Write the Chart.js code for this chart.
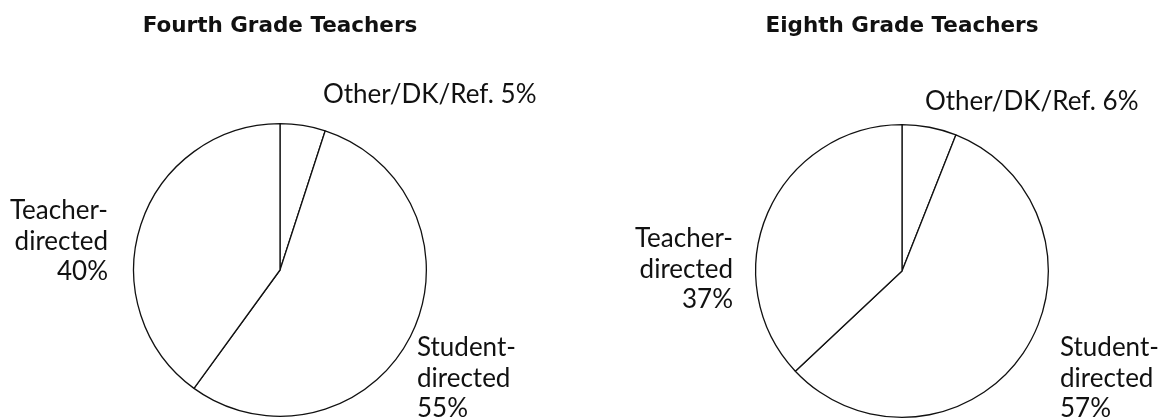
<!DOCTYPE html>
<html>
<head>
<meta charset="utf-8">
<script src="https://cdn.jsdelivr.net/npm/chart.js@4"></script>
<style>
  html, body { margin: 0; padding: 0; background: #fff; overflow: hidden; }
  #wrap { position: relative; width: 1160px; height: 419px; }
  .box { position: absolute; top: 0; width: 580px; height: 419px; }
</style>
</head>
<body>
<div id="wrap">
  <div class="box" style="left:0"><canvas id="fourth"></canvas></div>
  <div class="box" style="left:580px"><canvas id="eighth"></canvas></div>
</div>
<script>
const categories = ['Other/DK/Ref.', 'Student-directed', 'Teacher-directed'];
const fourthValues = [5, 55, 40];
const eighthValues = [6, 57, 37];
const chartTitles = ['Fourth Grade Teachers', 'Eighth Grade Teachers'];

// how each category label is broken into lines
const labelLines = [
  v => ['Other/DK/Ref. ' + v + '%'],
  v => ['Student-', 'directed', v + '%'],
  v => ['Teacher-', 'directed', v + '%']
];

// label anchors relative to pie centre: [dx, dy of first baseline, align]
const fourthSpots = [[43, -167, 'left'], [137, 86, 'left'], [-172, -51, 'right']];
const eighthSpots = [[23, -161, 'left'], [158, 85, 'left'], [-169, -24, 'right']];

const labelFont = '26px Lato, "Open Sans", sans-serif';

const pieLabels = {
  id: 'pieLabels',
  afterDraw(chart) {
    const ctx = chart.ctx;
    const spots = chart.options.plugins.pieLabels.spots;
    const values = chart.data.datasets[0].data;
    const arcs = chart.getDatasetMeta(0).data;
    ctx.save();
    ctx.font = labelFont;
    ctx.fillStyle = '#111';
    ctx.textBaseline = 'alphabetic';
    arcs.forEach((arc, i) => {
      const [dx, dy, align] = spots[i];
      ctx.textAlign = align;
      labelLines[i](values[i]).forEach((line, k) => {
        ctx.fillText(line, arc.x + dx, arc.y + dy + k * 30.5);
      });
    });
    ctx.restore();
  }
};

function makePie(id, values, title, pad, titlePadBottom, spots) {
  return new Chart(document.getElementById(id), {
    type: 'pie',
    data: {
      labels: categories,
      datasets: [{
        data: values,
        backgroundColor: '#fff',
        borderColor: '#111',
        borderWidth: 1.3,
        borderAlign: 'center'
      }]
    },
    options: {
      responsive: true,
      maintainAspectRatio: false,
      animation: false,
      events: [],
      layout: { padding: pad },
      plugins: {
        legend: { display: false },
        tooltip: { enabled: false },
        title: {
          display: true,
          text: title,
          color: '#111',
          font: { family: '"DejaVu Sans", sans-serif', size: 21.5, weight: 'bold', lineHeight: 1.2 },
          padding: { top: 14, bottom: titlePadBottom }
        },
        pieLabels: { spots: spots }
      }
    },
    plugins: [pieLabels]
  });
}

makePie('fourth', fourthValues, chartTitles[0], { left: 133, right: 153, top: 0, bottom: 2 }, 83.2, fourthSpots);
makePie('eighth', eighthValues, chartTitles[1], { left: 175, right: 111, top: 0, bottom: 1 }, 84.2, eighthSpots);
</script>
</body>
</html>
